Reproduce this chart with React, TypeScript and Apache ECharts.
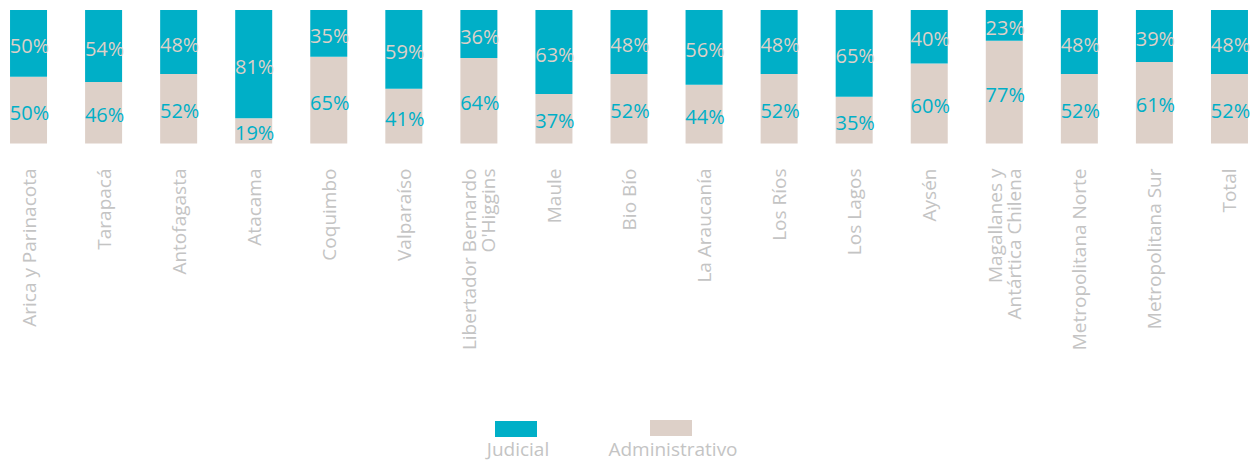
import React, { useEffect, useRef } from "react";
import * as echarts from "echarts";

const categories = [
  "Arica y Parinacota",
  "Tarapacá",
  "Antofagasta",
  "Atacama",
  "Coquimbo",
  "Valparaíso",
  "Libertador Bernardo\nO'Higgins",
  "Maule",
  "Bio Bío",
  "La Araucanía",
  "Los Ríos",
  "Los Lagos",
  "Aysén",
  "Magallanes y\nAntártica Chilena",
  "Metropolitana Norte",
  "Metropolitana Sur",
  "Total",
];
const judicial = [50, 54, 48, 81, 35, 59, 36, 63, 48, 56, 48, 65, 40, 23, 48, 39, 48];
const administrativo = [50, 46, 52, 19, 65, 41, 64, 37, 52, 44, 52, 35, 60, 77, 52, 61, 52];

const TEAL = "#00afc7";
const BEIGE = "#ddd0c8";
const GREY = "#c4c4c4";
const SHIFT = 9;

export default function App() {
  const ref = useRef<HTMLDivElement>(null);
  useEffect(() => {
    document.body.style.margin = "0";
    const chart = echarts.init(ref.current!, undefined, { renderer: "svg" });
    const labelBase = {
      show: true,
      position: "inside" as const,
      fontFamily: "Open Sans",
      fontSize: 20,
      offset: [1, 2],
      formatter: "{c}%",
    };
    chart.setOption({
      animation: false,
      grid: { left: 0, right: 0, top: 10, bottom: 317.5 },
      xAxis: {
        type: "category",
        data: categories,
        axisLine: { show: false },
        axisTick: { show: false },
        axisLabel: {
          rotate: 90,
          margin: 25,
          color: GREY,
          fontFamily: "Open Sans",
          fontSize: 19,
          lineHeight: 19,
          interval: 0,
        },
      },
      yAxis: { type: "value", min: 0, max: 100, show: false },
      legend: [
        {
          data: ["Judicial"],
          icon: "rect",
          left: 495 + SHIFT,
          top: 421,
          padding: 0,
          itemWidth: 42,
          itemHeight: 16,
          formatter: () => "",
          selectedMode: false,
        },
        {
          data: ["Administrativo"],
          icon: "rect",
          left: 650 + SHIFT,
          top: 420,
          padding: 0,
          itemWidth: 42,
          itemHeight: 16,
          formatter: () => "",
          selectedMode: false,
        },
      ],
      graphic: [
        {
          type: "text",
          x: 518 + SHIFT,
          y: 439,
          style: {
            text: "Judicial",
            fill: GREY,
            font: "19px 'Open Sans'",
            lineHeight: 19,
            textAlign: "center",
            textVerticalAlign: "top",
          },
        },
        {
          type: "text",
          x: 673 + SHIFT,
          y: 439,
          style: {
            text: "Administrativo",
            fill: GREY,
            font: "19px 'Open Sans'",
            lineHeight: 19,
            textAlign: "center",
            textVerticalAlign: "top",
          },
        },
      ],
      series: [
        {
          name: "Administrativo",
          type: "bar",
          stack: "total",
          barWidth: 37,
          data: administrativo,
          itemStyle: { color: BEIGE },
          label: { ...labelBase, color: TEAL },
        },
        {
          name: "Judicial",
          type: "bar",
          stack: "total",
          barWidth: 37,
          data: judicial,
          itemStyle: { color: TEAL },
          label: { ...labelBase, color: BEIGE },
        },
      ],
    });
    return () => chart.dispose();
  }, []);
  return (
    <div style={{ width: 1251, height: 461, overflow: "hidden", position: "relative" }}>
      <div
        ref={ref}
        style={{ position: "absolute", left: -SHIFT, top: 0, width: 1276, height: 461 }}
      />
    </div>
  );
}
